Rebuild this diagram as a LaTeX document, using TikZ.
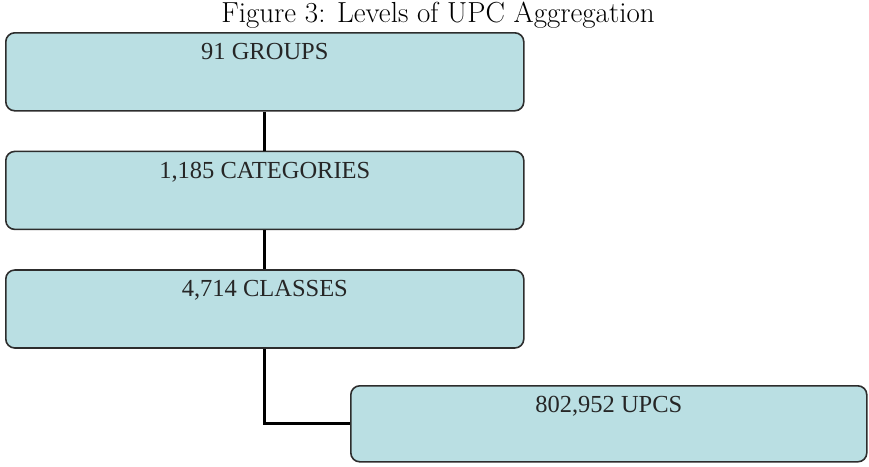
\documentclass[tikz,border=0pt]{standalone}
\usepackage{fontspec}
\newfontfamily\boxfont{Liberation Serif}
\usetikzlibrary{positioning}
\definecolor{boxfill}{RGB}{186,223,227}
\definecolor{boxline}{RGB}{45,45,45}
\tikzstyle{level_box} = [
    rectangle, 
    rounded corners=9pt, 
    draw=boxline, 
    line width=1.6pt, 
    fill=boxfill, 
    minimum width=518pt, 
    minimum height=78pt, 
    inner sep=0pt
]
\tikzstyle{level_text} = [
    anchor=north, 
    inner sep=0pt, 
    yshift=-11pt, 
    text=black!85, 
    font=\boxfont\fontsize{24.5}{28}\selectfont
]
\tikzstyle{link} = [
    draw=black, 
    line width=3pt
]

\begin{document}
\begin{tikzpicture}[x=1pt, y=-1pt, node distance=39pt]
\useasboundingbox (0,0) rectangle (869,466);
\node [anchor=north, inner sep=0pt, font=\fontsize{29}{33}\selectfont] (title) at (438,2) {Figure 3: Levels of UPC Aggregation};
\node [level_box, anchor=north west, label={[level_text]north:91 GROUPS}] (groups) at (5,32) {};
\node [level_box, below=of groups, label={[level_text]north:1,185 CATEGORIES}] (categories) {};
\node [level_box, below=of categories, label={[level_text]north:4,714 CLASSES}] (classes) {};
\node [level_box, anchor=north west, minimum width=516pt, minimum height=76pt, label={[level_text]north:802,952 UPCS}] (upcs) at (350,385) {};
\draw [link] (groups) -- (categories);
\draw [link] (categories) -- (classes);
\draw [link] (classes.south) |- (upcs.west);
\end{tikzpicture}
\end{document}
